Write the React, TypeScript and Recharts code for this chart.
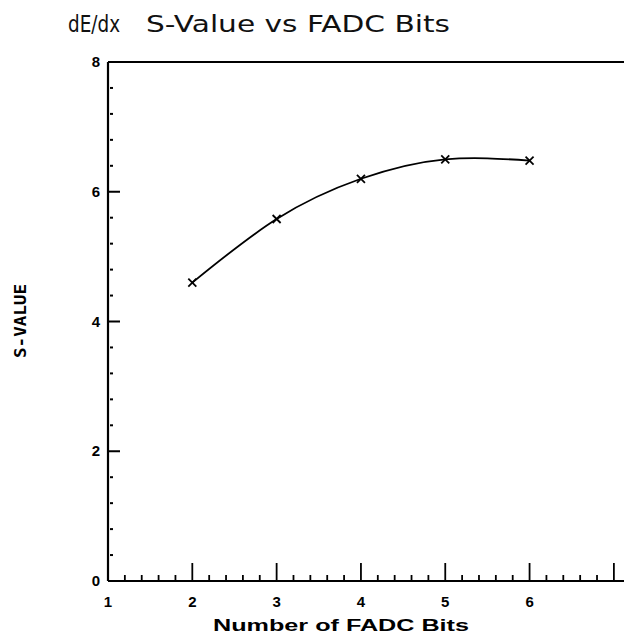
import React from "react";
import { LineChart, Line, XAxis, YAxis, ReferenceLine, Customized } from "recharts";

const bits = [2, 3, 4, 5, 6];
const sValues = [4.6, 5.58, 6.2, 6.5, 6.48];
const xTicks = [1, 1.2, 1.4, 1.6, 1.8, 2, 2.2, 2.4, 2.6, 2.8, 3, 3.2, 3.4, 3.6, 3.8, 4, 4.2, 4.4, 4.6, 4.8, 5, 5.2, 5.4, 5.6, 5.8, 6, 6.2, 6.4, 6.6, 6.8, 7];
const xLabels = [1, 2, 3, 4, 5, 6];
const yTicks = [0, 0.4, 0.8, 1.2, 1.6, 2, 2.4, 2.8, 3.2, 3.6, 4, 4.4, 4.8, 5.2, 5.6, 6, 6.4, 6.8, 7.2, 7.6, 8];
const yLabels = [0, 2, 4, 6, 8];

const data = bits.map((b, i) => ({ bits: b, s: sValues[i] }));

const near = (a: number, b: number) => Math.abs(a - b) < 1e-6;

const XTick = (props: any) => {
  const { x, y, payload } = props;
  const v = payload.value;
  const major = xLabels.some((l) => near(l, v)) || near(v, 7);
  const showLabel = xLabels.some((l) => near(l, v));
  return (
    <g>
      <line x1={x} x2={x} y1={y} y2={y - (major ? 18 : 6)} stroke="#000" strokeWidth={1.8} />
      {showLabel && (
        <text x={x} y={y + 26} textAnchor="middle" fontFamily="Liberation Sans, Arial, sans-serif" fontWeight="bold" fontSize={15} fill="#000">
          {v}
        </text>
      )}
    </g>
  );
};

const YTick = (props: any) => {
  const { x, y, payload } = props;
  const v = payload.value;
  const major = yLabels.some((l) => near(l, v));
  return (
    <g>
      {major ? (
        <line x1={x} x2={x + 12} y1={y} y2={y} stroke="#000" strokeWidth={2} />
      ) : (
        <line x1={x + 2} x2={x + 5} y1={y} y2={y} stroke="#000" strokeWidth={2} />
      )}
      {major && (
        <text x={x - 8} y={y + 5} textAnchor="end" fontFamily="Liberation Sans, Arial, sans-serif" fontWeight="bold" fontSize={15} fill="#000">
          {v}
        </text>
      )}
    </g>
  );
};

const Cross = (props: any) => {
  const { cx, cy } = props;
  if (cx == null || cy == null) return <g />;
  const r = 4;
  return (
    <g>
      <line x1={cx - r} y1={cy - r} x2={cx + r} y2={cy + r} stroke="#000" strokeWidth={1.8} />
      <line x1={cx - r} y1={cy + r} x2={cx + r} y2={cy - r} stroke="#000" strokeWidth={1.8} />
    </g>
  );
};

const Texts = () => (
  <g>
    <text x={68} y={32} fontFamily="DejaVu Sans, sans-serif" fontSize={23} fill="#111" textLength={52} lengthAdjust="spacingAndGlyphs">
      dE/dx
    </text>
    <text x={146} y={32} fontFamily="DejaVu Sans, sans-serif" fontSize={23} fill="#111" textLength={304} lengthAdjust="spacingAndGlyphs">
      S-Value vs FADC Bits
    </text>
    <text x={341} y={631} textAnchor="middle" fontFamily="Liberation Sans, Arial, sans-serif" fontWeight="bold" fontSize={16} fill="#000" textLength={256} lengthAdjust="spacingAndGlyphs">
      Number of FADC Bits
    </text>
    <text x={0} y={0} transform="translate(26,321) rotate(-90)" textAnchor="middle" fontFamily="DejaVu Sans Mono, monospace" fontWeight="bold" fontSize={15} fill="#000" textLength={74} lengthAdjust="spacingAndGlyphs">
      S-VALUE
    </text>
  </g>
);

export default function App() {
  return (
    <div style={{ position: "absolute", left: 0, top: 0, width: 624, height: 639, background: "#fff" }}>
      <LineChart width={624} height={639} data={data} margin={{ top: 62, right: 0, bottom: 0, left: 0 }}>
        <XAxis
          dataKey="bits"
          type="number"
          domain={[1, 7.12]}
          ticks={xTicks}
          interval={0}
          allowDataOverflow
          height={58}
          tickSize={0}
          tickMargin={0}
          tick={<XTick />}
          axisLine={{ stroke: "#000", strokeWidth: 1.8 }}
        />
        <YAxis
          type="number"
          domain={[0, 8]}
          ticks={yTicks}
          interval={0}
          width={108}
          tickSize={0}
          tickMargin={0}
          tick={<YTick />}
          axisLine={{ stroke: "#000", strokeWidth: 2.2 }}
        />
        <ReferenceLine y={8} stroke="#000" strokeWidth={1.8} />
        <Line
          dataKey="s"
          type="natural"
          stroke="#000"
          strokeWidth={1.8}
          dot={<Cross />}
          activeDot={false}
          isAnimationActive={false}
        />
        <Customized component={Texts} />
      </LineChart>
    </div>
  );
}
